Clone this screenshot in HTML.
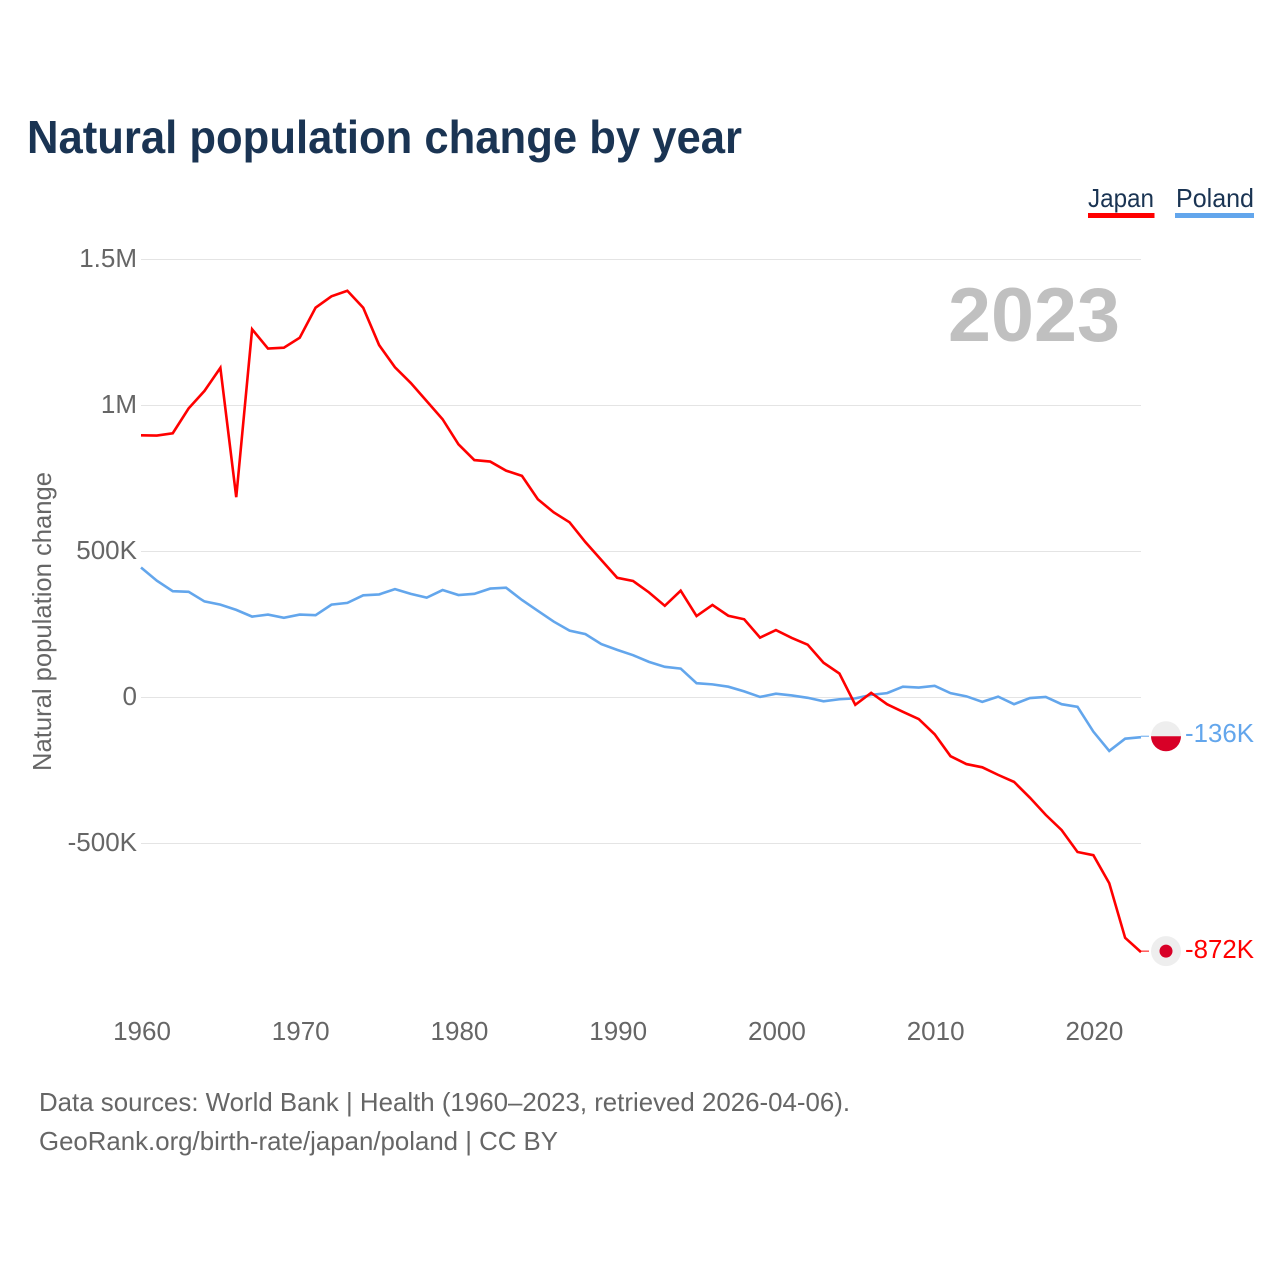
<!DOCTYPE html>
<html lang="en">
<head>
<meta charset="utf-8">
<title>Natural population change by year</title>
<style>
  html, body { margin: 0; padding: 0; background: #fff; }
  svg { display: block; font-family: "Liberation Sans", sans-serif; }
</style>
</head>
<body>
<svg id="chart" xmlns="http://www.w3.org/2000/svg" width="1280" height="1280" viewBox="0 0 1280 1280">
  <rect x="0" y="0" width="1280" height="1280" fill="#ffffff"/>
  <text x="27" y="153" font-size="46" font-weight="700" fill="#1a3453" textLength="715" lengthAdjust="spacingAndGlyphs">Natural population change by year</text>

  <g>
    <g>
      <text x="1088" y="207" font-size="26" fill="#1a3453" textLength="66" lengthAdjust="spacingAndGlyphs">Japan</text>
      <rect x="1088" y="213" width="66.5" height="5" fill="#ff0000"/>
    </g>
    <g>
      <text x="1176" y="207" font-size="26" fill="#1a3453" textLength="78" lengthAdjust="spacingAndGlyphs">Poland</text>
      <rect x="1175" y="213" width="79" height="5" fill="#63a6ec"/>
    </g>
  </g>

  <g id="grid"></g>
  <g id="y-ticks"></g>
  <g id="x-ticks"></g>

  <text transform="translate(51,621.5) rotate(-90)" text-anchor="middle" font-size="26" fill="#666666" textLength="299" lengthAdjust="spacingAndGlyphs">Natural population change</text>

  <text x="948" y="341" font-size="76" font-weight="700" fill="#c0c0c0" textLength="172" lengthAdjust="spacingAndGlyphs">2023</text>

  <g id="series"></g>
  <g id="ends"></g>

  <text x="39" y="1111" font-size="26" fill="#666666" textLength="811" lengthAdjust="spacingAndGlyphs">Data sources: World Bank | Health (1960–2023, retrieved 2026-04-06).</text>
  <text x="39" y="1150" font-size="26" fill="#666666" textLength="519" lengthAdjust="spacingAndGlyphs">GeoRank.org/birth-rate/japan/poland | CC BY</text>
</svg>

<script>
const firstYear = 1960;
const lastYear = 2023;
const japanValues = [898,897,905,990,1050,1129,686,1261,1195,1198,1232,1335,1374,1393,1335,1207,1131,1077,1015,953,867,813,808,777,759,679,634,600,532,471,410,399,360,314,366,279,317,280,268,205,231,204,181,119,82,-25,16,-23,-49,-74,-126,-201,-228,-239,-265,-289,-343,-402,-454,-529,-540,-636,-823,-872];
const polandValues = [445,400,364,362,329,318,300,277,284,273,284,282,318,324,350,353,371,355,342,368,351,355,373,376,334,297,260,229,217,183,163,145,122,105,99,49,45,37,21,2,13,7,-1,-13,-6,-3,9,15,37,34,40,15,4,-15,3,-23,-2,2,-23,-32,-117,-183,-141,-136];
const yTickValues = [1500,1000,500,0,-500];
const yTickLabels = ["1.5M","1M","500K","0","-500K"];
const xTickYears = [1960,1970,1980,1990,2000,2010,2020];
const endLabels = ["-872K","-136K"];

const SVG_NS = "http://www.w3.org/2000/svg";
const plotLeft = 141, plotRight = 1141, zeroY = 697.5, pxPerThousand = 0.292;
function xScale(year) {
  return plotLeft + (year - firstYear) * (plotRight - plotLeft) / (lastYear - firstYear);
}
function yScale(value) {
  return zeroY - value * pxPerThousand;
}
function make(tag, attrs, parent) {
  const el = document.createElementNS(SVG_NS, tag);
  for (const k in attrs) el.setAttribute(k, attrs[k]);
  parent.appendChild(el);
  return el;
}

const gridGroup = document.getElementById("grid");
const yTickGroup = document.getElementById("y-ticks");
const xTickGroup = document.getElementById("x-ticks");
const seriesGroup = document.getElementById("series");
const endGroup = document.getElementById("ends");

yTickValues.forEach(function (v, i) {
  const line = make("line", { x1: plotLeft, x2: plotRight, y1: yScale(v), y2: yScale(v), stroke: "#e4e4e4", "stroke-width": 1 }, gridGroup);
  
  
  const label = make("text", { x: 137, y: yScale(v) + 7.5, "text-anchor": "end", "font-size": 26, fill: "#666666" }, yTickGroup);
  label.textContent = yTickLabels[i];
  
  
});

xTickYears.forEach(function (yr) {
  const label = make("text", { x: xScale(yr) + 1, y: 1040, "text-anchor": "middle", "font-size": 26, fill: "#666666" }, xTickGroup);
  label.textContent = String(yr);
  
  
});

function pointsFor(values) {
  return values.map(function (v, i) {
    return xScale(firstYear + i).toFixed(2) + "," + yScale(v).toFixed(2);
  }).join(" ");
}

const polandLine = make("polyline", { points: pointsFor(polandValues), fill: "none", stroke: "#63a6ec", "stroke-width": 2.6, "stroke-linejoin": "miter" }, seriesGroup);



const japanLine = make("polyline", { points: pointsFor(japanValues), fill: "none", stroke: "#ff0000", "stroke-width": 2.6, "stroke-linejoin": "miter" }, seriesGroup);



const markerX = 1166, markerR = 15, markerShift = -1;

/* Japan end marker */
const jpY = yScale(japanValues[japanValues.length - 1]) + markerShift;
const jpConn = make("line", { x1: plotRight, x2: 1149, y1: jpY, y2: jpY, stroke: "#ff0000", "stroke-width": 1 }, endGroup);


const jpFlag = make("circle", { cx: markerX, cy: jpY, r: markerR, fill: "#eeeeee" }, endGroup);


const jpDot = make("circle", { cx: markerX, cy: jpY, r: 6.5, fill: "#d80027" }, endGroup);


const jpLabel = make("text", { x: 1185, y: jpY + 7, "font-size": 26, fill: "#ff0000", textLength: 69, lengthAdjust: "spacingAndGlyphs" }, endGroup);
jpLabel.textContent = endLabels[0];



/* Poland end marker */
const plY = yScale(polandValues[polandValues.length - 1]) + markerShift;
const plConn = make("line", { x1: plotRight, x2: 1149, y1: plY, y2: plY, stroke: "#63a6ec", "stroke-width": 1 }, endGroup);


const plFlag = make("circle", { cx: markerX, cy: plY, r: markerR, fill: "#eeeeee" }, endGroup);


const plRed = make("path", { d: "M" + (markerX - markerR) + " " + plY + " A" + markerR + " " + markerR + " 0 0 0 " + (markerX + markerR) + " " + plY + " Z", fill: "#d80027" }, endGroup);


const plLabel = make("text", { x: 1185, y: plY + 6, "font-size": 26, fill: "#63a6ec", textLength: 69, lengthAdjust: "spacingAndGlyphs" }, endGroup);
plLabel.textContent = endLabels[1];


</script>
</body>
</html>
